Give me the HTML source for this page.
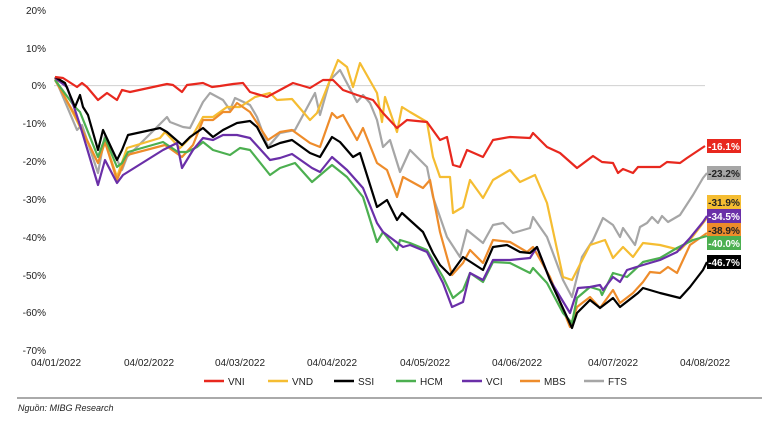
<!DOCTYPE html>
<html><head><meta charset="utf-8"><style>
body{margin:0;background:#fff;}
svg text{font-family:"Liberation Sans",sans-serif;}
</style></head><body>
<svg width="765" height="420" viewBox="0 0 765 420" xmlns="http://www.w3.org/2000/svg">
<rect width="765" height="420" fill="#fff"/>
<g font-size="10" fill="#222" text-anchor="end">
<text x="46" y="14">20%</text><text x="46" y="52">10%</text><text x="46" y="89">0%</text>
<text x="46" y="127">-10%</text><text x="46" y="165">-20%</text><text x="46" y="203">-30%</text>
<text x="46" y="241">-40%</text><text x="46" y="279">-50%</text><text x="46" y="316">-60%</text>
<text x="46" y="354">-70%</text>
</g>
<g font-size="10" fill="#222" text-anchor="middle">
<text x="56" y="366">04/01/2022</text><text x="149" y="366">04/02/2022</text><text x="240" y="366">04/03/2022</text>
<text x="332" y="366">04/04/2022</text><text x="425" y="366">04/05/2022</text><text x="517" y="366">04/06/2022</text>
<text x="613" y="366">04/07/2022</text><text x="705" y="366">04/08/2022</text>
</g>
<line x1="54" y1="85.6" x2="705" y2="85.6" stroke="#d0d0d0" stroke-width="1"/>
<g fill="none" stroke-width="2.2" stroke-linejoin="round">
<polyline stroke="#a6a6a6" points="55,78 77,130 82,125 98,173 105,135 122,170 127,157 167,117 170,122 183,127 190,128 203,102 210,93 223,100 230,110 235,98 250,105 257,117 268,147 280,133 295,130 315,93 320,115 330,80 340,70 357,102 363,95 370,103 377,120 383,147 390,140 400,172 410,150 427,167 433,197 447,237 460,257 467,230 483,243 493,225 503,223 513,233 530,228 533,217 547,237 563,280 572,297 582,257 593,240 603,218 613,225 620,237 623,228 635,245 640,227 647,223 652,217 658,223 662,216 668,222 680,215 693,195 703,178 707,173"/>
<polyline stroke="#f5bd32" points="55,78 75,117 98,163 105,142 117,177 127,148 160,138 165,132 180,148 193,135 203,117 213,117 227,107 240,107 255,97 270,93 277,100 292,99 310,120 317,113 330,80 338,60 347,67 353,87 360,63 377,93 382,122 385,97 397,132 402,107 410,112 427,122 433,157 440,177 450,177 453,213 463,207 470,180 483,198 493,180 510,170 520,182 535,175 547,203 563,277 572,280 590,245 605,240 613,258 623,247 633,257 643,243 660,245 680,250 690,240 707,218"/>
<polyline stroke="#ee8c2b" points="55,80 75,115 98,163 105,142 117,180 127,155 165,145 182,157 193,145 203,120 213,120 223,112 230,112 237,103 250,112 268,140 280,132 292,130 310,143 320,147 332,113 337,118 343,115 357,140 363,128 377,163 387,170 397,197 403,177 423,188 430,180 440,232 452,275 463,263 470,250 483,263 493,240 510,242 527,252 533,247 550,277 570,327 577,307 590,297 600,308 613,290 620,303 633,293 643,282 650,272 660,273 668,267 677,273 690,245 707,233"/>
<polyline stroke="#4caf50" points="55,80 75,107 80,112 98,157 105,138 117,167 122,163 128,152 163,142 178,152 187,152 197,147 203,142 213,150 230,155 240,148 250,150 270,175 280,168 295,163 312,182 332,165 347,177 363,197 377,242 383,232 397,250 400,240 410,243 427,250 443,277 453,298 463,290 470,273 483,282 493,262 510,263 530,273 533,268 547,283 563,313 572,323 577,298 590,287 600,290 602,295 613,273 627,277 643,262 660,258 677,248 693,240 707,236"/>
<polyline stroke="#6a2fa8" points="55,78 67,87 75,110 79,122 83,135 98,185 105,160 117,183 123,175 163,150 177,143 182,168 193,150 203,138 213,140 223,135 237,135 250,138 270,160 280,158 292,154 312,168 320,172 332,157 347,170 363,188 377,223 383,232 403,247 410,245 427,252 443,283 452,307 463,302 470,273 483,280 493,260 510,260 530,258 537,247 550,280 570,313 578,288 590,287 600,285 603,290 613,277 620,282 627,270 643,265 660,260 677,252 690,238 703,222 707,216"/>
<polyline stroke="#000" points="55,77 65,83 75,107 80,95 83,107 88,115 98,150 103,130 117,160 122,150 128,135 160,128 167,132 182,145 190,137 203,128 213,137 223,130 237,123 250,121 257,127 268,148 280,143 292,140 310,153 320,157 332,137 340,142 353,157 360,153 377,207 387,200 397,220 402,213 423,232 433,253 440,265 450,275 463,257 483,270 493,247 507,245 520,252 530,253 537,247 550,280 572,328 577,313 590,300 600,308 613,298 620,307 638,293 643,288 660,293 680,298 690,287 703,270 707,262"/>
<polyline stroke="#e8281e" points="55,77 63,78 77,87 82,83 87,87 98,100 107,93 117,100 122,90 130,92 167,84 173,85 182,92 187,85 203,83 212,87 220,86 233,84 243,83 250,92 267,97 293,83 310,88 323,80 333,80 343,90 357,95 373,100 383,113 397,128 407,120 427,122 440,140 447,137 453,165 460,167 467,150 483,157 493,140 510,137 530,138 533,133 547,147 560,153 577,168 593,156 602,162 613,163 618,173 623,169 633,173 638,167 660,167 667,162 680,163 687,158 705,146"/>
</g>
<g font-size="10" font-weight="bold" text-anchor="middle">
<rect x="707" y="139" width="34" height="14" fill="#e8281e"/><text x="724" y="150" fill="#fff">-16.1%</text>
<rect x="707" y="166" width="34" height="14" fill="#a6a6a6"/><text x="724" y="177" fill="#222">-23.2%</text>
<rect x="707" y="195" width="34" height="14" fill="#f5bd32"/><text x="724" y="206" fill="#222">-31.9%</text>
<rect x="707" y="209" width="34" height="14" fill="#6a2fa8"/><text x="724" y="220" fill="#fff">-34.5%</text>
<rect x="707" y="223" width="34" height="14" fill="#ee8c2b"/><text x="724" y="234" fill="#222">-38.9%</text>
<rect x="707" y="236" width="34" height="14" fill="#4caf50"/><text x="724" y="247" fill="#fff">-40.0%</text>
<rect x="707" y="255" width="34" height="14" fill="#000"/><text x="724" y="266" fill="#fff">-46.7%</text>
</g>
<g font-size="10" fill="#222" stroke-width="2.5">
<line x1="204" y1="381" x2="224" y2="381" stroke="#e8281e"/><text x="228" y="385">VNI</text>
<line x1="268" y1="381" x2="288" y2="381" stroke="#f5bd32"/><text x="292" y="385">VND</text>
<line x1="334" y1="381" x2="354" y2="381" stroke="#000"/><text x="358" y="385">SSI</text>
<line x1="396" y1="381" x2="416" y2="381" stroke="#4caf50"/><text x="420" y="385">HCM</text>
<line x1="462" y1="381" x2="482" y2="381" stroke="#6a2fa8"/><text x="486" y="385">VCI</text>
<line x1="520" y1="381" x2="540" y2="381" stroke="#ee8c2b"/><text x="544" y="385">MBS</text>
<line x1="584" y1="381" x2="604" y2="381" stroke="#a6a6a6"/><text x="608" y="385">FTS</text>
</g>
<line x1="17" y1="398" x2="762" y2="398" stroke="#555" stroke-width="1"/>
<text x="18" y="411" font-size="9" font-style="italic" fill="#222">Nguồn: MIBG Research</text>
</svg>
</body></html>
